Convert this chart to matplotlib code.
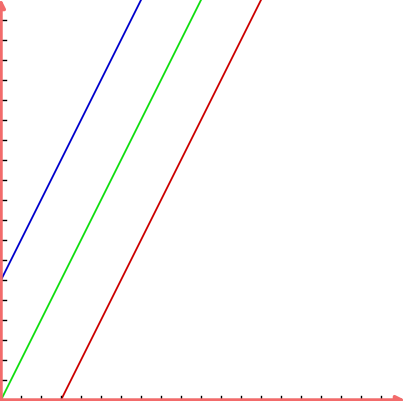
import numpy as np
import matplotlib
matplotlib.use("Agg")
import matplotlib.pyplot as plt

# three parallel lines y = 2x + b
x_vals = [0, 20]
intercepts = [6, 0, -6]
line_colors = ['#0000cc', '#11dd11', '#cc0000']
tick_positions = list(range(1, 20))

axis_color = '#f26b6b'

fig = plt.figure(figsize=(4.08, 4.02), dpi=100)
ax = fig.add_axes([1 / 408, 1 / 402, 400 / 408, 400 / 402])
ax.set_xlim(0, 20)
ax.set_ylim(0, 20)

for b, c in zip(intercepts, line_colors):
    xs = np.array(x_vals, dtype=float)
    ax.plot(xs, 2 * xs + b, color=c, linewidth=1.3)

for s in ax.spines.values():
    s.set_visible(False)
ax.set_xticks([])
ax.set_yticks([])

# small black tick marks inside the axes
for t in tick_positions:
    ax.plot([t, t], [0, 0.2], color='black', linewidth=1, clip_on=False)
    ax.plot([0, 0.25], [t, t], color='black', linewidth=1, clip_on=False)

# axis lines with arrow heads
arrow = dict(arrowstyle='-|>', color=axis_color, linewidth=2.5, mutation_scale=12,
             shrinkA=0, shrinkB=0)
ax.annotate('', xy=(20.2, 0), xytext=(0, 0), arrowprops=arrow, annotation_clip=False)
ax.annotate('', xy=(0, 20.05), xytext=(0, 0), arrowprops=arrow, annotation_clip=False)

fig.savefig('out.png', dpi=100)
